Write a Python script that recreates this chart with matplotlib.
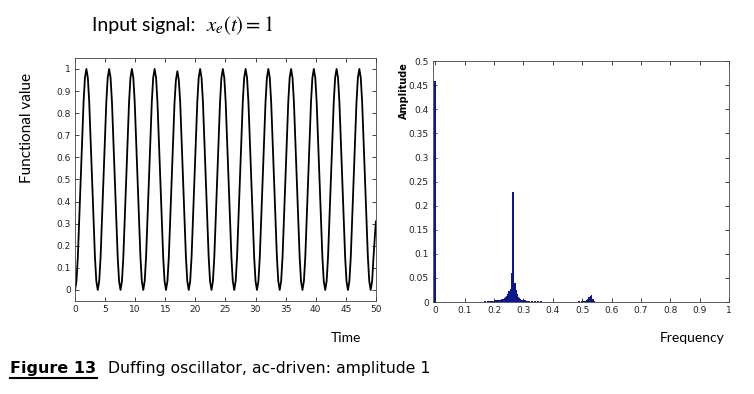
import matplotlib
matplotlib.use("Agg")
import matplotlib.pyplot as plt
from matplotlib.lines import Line2D

# time response (12 points per cycle)
time_pts = [
    0.00, 0.24, 0.47, 0.95, 1.42, 1.65, 1.89, 2.13, 2.36, 2.84, 3.31, 3.54,
    3.78, 4.02, 4.25, 4.73, 5.20, 5.43, 5.67, 5.91, 6.14, 6.62, 7.09, 7.32,
    7.56, 7.80, 8.03, 8.51, 8.98, 9.21, 9.45, 9.69, 9.92, 10.40, 10.87, 11.10,
    11.34, 11.58, 11.81, 12.29, 12.76, 12.99, 13.23, 13.47, 13.70, 14.18, 14.65, 14.88,
    15.12, 15.36, 15.59, 16.07, 16.54, 16.77, 17.01, 17.25, 17.48, 17.96, 18.43, 18.66,
    18.90, 19.14, 19.37, 19.85, 20.32, 20.55, 20.79, 21.03, 21.26, 21.74, 22.21, 22.44,
    22.68, 22.92, 23.15, 23.63, 24.10, 24.33, 24.57, 24.81, 25.04, 25.52, 25.99, 26.22,
    26.46, 26.70, 26.93, 27.41, 27.88, 28.11, 28.35, 28.59, 28.82, 29.30, 29.77, 30.00,
    30.24, 30.48, 30.71, 31.19, 31.66, 31.89, 32.13, 32.37, 32.60, 33.08, 33.55, 33.78,
    34.02, 34.26, 34.49, 34.97, 35.44, 35.67, 35.91, 36.15, 36.38, 36.86, 37.33, 37.56,
    37.80, 38.04, 38.27, 38.75, 39.22, 39.45, 39.69, 39.93, 40.16, 40.64, 41.11, 41.34,
    41.58, 41.82, 42.05, 42.53, 43.00, 43.23, 43.47, 43.71, 43.94, 44.42, 44.89, 45.12,
    45.36, 45.60, 45.83, 46.31, 46.78, 47.01, 47.25, 47.49, 47.72, 48.20, 48.67, 48.90,
    49.14, 49.38, 49.61, 50.00,
]
value_pts = [
    0.00, 0.04, 0.15, 0.50, 0.85, 0.96, 1.00, 0.96, 0.85, 0.50, 0.15, 0.04,
    0.00, 0.04, 0.15, 0.50, 0.85, 0.96, 1.00, 0.96, 0.85, 0.50, 0.15, 0.04,
    0.00, 0.04, 0.15, 0.50, 0.85, 0.96, 1.00, 0.96, 0.85, 0.50, 0.15, 0.04,
    0.00, 0.04, 0.15, 0.50, 0.85, 0.96, 1.00, 0.96, 0.85, 0.50, 0.15, 0.04,
    0.00, 0.04, 0.15, 0.50, 0.85, 0.95, 0.99, 0.95, 0.85, 0.50, 0.15, 0.04,
    0.00, 0.04, 0.15, 0.50, 0.85, 0.96, 1.00, 0.96, 0.85, 0.50, 0.15, 0.04,
    0.00, 0.04, 0.15, 0.50, 0.85, 0.96, 1.00, 0.96, 0.85, 0.50, 0.15, 0.04,
    0.00, 0.04, 0.15, 0.50, 0.85, 0.96, 1.00, 0.96, 0.85, 0.50, 0.15, 0.04,
    0.00, 0.04, 0.15, 0.50, 0.85, 0.96, 1.00, 0.96, 0.85, 0.50, 0.15, 0.04,
    0.00, 0.04, 0.15, 0.50, 0.85, 0.96, 1.00, 0.96, 0.85, 0.50, 0.15, 0.04,
    0.00, 0.04, 0.15, 0.50, 0.85, 0.96, 1.00, 0.96, 0.85, 0.50, 0.15, 0.04,
    0.00, 0.04, 0.15, 0.50, 0.85, 0.96, 1.00, 0.96, 0.85, 0.50, 0.15, 0.04,
    0.00, 0.04, 0.15, 0.50, 0.85, 0.96, 1.00, 0.96, 0.85, 0.50, 0.15, 0.04,
    0.00, 0.04, 0.15, 0.31,
]

# amplitude spectrum
freqs = [
    0.000,
    0.060, 0.070, 0.080, 0.090, 0.100, 0.110, 0.120, 0.130, 0.140, 0.150,
    0.160, 0.170, 0.180, 0.185, 0.190, 0.195, 0.200, 0.205, 0.210, 0.215,
    0.220, 0.225, 0.230, 0.235, 0.240, 0.244, 0.248, 0.252, 0.256, 0.260,
    0.265, 0.270, 0.274, 0.278, 0.282, 0.286, 0.290, 0.294, 0.298, 0.302,
    0.306, 0.310, 0.315, 0.320, 0.330, 0.340, 0.350, 0.360, 0.370, 0.380,
    0.390, 0.400, 0.410, 0.420, 0.430, 0.440, 0.450, 0.460, 0.470, 0.480,
    0.490, 0.500, 0.505, 0.510, 0.515, 0.520, 0.524, 0.528, 0.532, 0.536,
    0.540, 0.545,
]
amps = [
    0.458,
    0.001, 0.001, 0.001, 0.001, 0.001, 0.001, 0.001, 0.001, 0.001, 0.001,
    0.001, 0.0015, 0.002, 0.002, 0.0025, 0.003, 0.003, 0.0035, 0.004, 0.0045,
    0.005, 0.006, 0.007, 0.008, 0.010, 0.013, 0.017, 0.022, 0.028, 0.060,
    0.228, 0.040, 0.024, 0.016, 0.011, 0.008, 0.006, 0.005, 0.004, 0.004,
    0.0035, 0.003, 0.003, 0.0025, 0.002, 0.002, 0.0015, 0.0015, 0.001, 0.001,
    0.001, 0.001, 0.001, 0.001, 0.001, 0.001, 0.001, 0.001, 0.001, 0.001,
    0.0015, 0.002, 0.002, 0.003, 0.004, 0.006, 0.010, 0.012, 0.014, 0.006,
    0.002, 0.001,
]

time_ticks = [0, 5, 10, 15, 20, 25, 30, 35, 40, 45, 50]
value_ticks = [0, 0.1, 0.2, 0.3, 0.4, 0.5, 0.6, 0.7, 0.8, 0.9, 1]
freq_ticks = [0, 0.1, 0.2, 0.3, 0.4, 0.5, 0.6, 0.7, 0.8, 0.9, 1]
amp_ticks = [0, 0.05, 0.1, 0.15, 0.2, 0.25, 0.3, 0.35, 0.4, 0.45, 0.5]

plt.rcParams['mathtext.fontset'] = 'stix'
label_font = 'Lato'

fig = plt.figure(figsize=(7.54, 3.94), dpi=100)


def matlab_style(ax):
    ax.tick_params(direction='in', top=True, right=True, length=3,
                   width=0.6, labelsize=6.5, colors='#222222', pad=3)
    for sp in ax.spines.values():
        sp.set_linewidth(0.6)
        sp.set_color('#444444')


# left panel: time signal
ax1 = fig.add_axes([0.0995, 0.236, 0.399, 0.617])
ax1.plot(time_pts, value_pts, color='black', linewidth=1.3)
ax1.set_xlim(0, 50)
ax1.set_ylim(-0.05, 1.05)
ax1.set_xticks(time_ticks)
ax1.set_xticklabels([str(t) for t in time_ticks])
ax1.set_yticks(value_ticks)
ax1.set_yticklabels([f'{v:g}' for v in value_ticks])
matlab_style(ax1)

# right panel: spectrum
ax2 = fig.add_axes([0.5743, 0.2335, 0.3926, 0.611])
ax2.bar(freqs, amps, width=0.006, color='#0b1590', edgecolor='none')
ax2.set_xlim(-0.008, 1)
ax2.set_ylim(0, 0.5)
ax2.set_xticks(freq_ticks)
ax2.set_xticklabels([f'{f:g}' for f in freq_ticks])
ax2.set_yticks(amp_ticks)
ax2.set_yticklabels([f'{a:g}' for a in amp_ticks])
matlab_style(ax2)

# labels and title
fig.text(92 / 754, 1 - 26 / 394, 'Input signal:', fontsize=14,
         family=label_font, va='center', ha='left')
fig.text(206 / 754, 1 - 26 / 394, r'$x_e\left(t\right)=1$', fontsize=15,
         va='center', ha='left')
fig.text(27 / 754, 1 - 128 / 394, 'Functional value', rotation=90,
         fontsize=11, family=label_font, va='center', ha='center')
fig.text(404 / 754, 1 - 91 / 394, 'Amplitude', rotation=90,
         fontsize=7, fontweight='bold', va='center', ha='center')
fig.text(346 / 754, 1 - 338 / 394, 'Time', fontsize=10, family=label_font,
         va='center', ha='center')
fig.text(692 / 754, 1 - 338 / 394, 'Frequency', fontsize=10, family=label_font,
         va='center', ha='center')

# caption
fig.text(10 / 754, 1 - 368 / 394, 'Figure 13', fontsize=11.5,
         fontweight='bold', va='center', ha='left')
fig.text(108 / 754, 1 - 368 / 394, 'Duffing oscillator, ac-driven: amplitude 1',
         fontsize=11.3, va='center', ha='left')
fig.add_artist(Line2D([10 / 754, 97 / 754], [1 - 378 / 394, 1 - 378 / 394],
                      transform=fig.transFigure, color='black', linewidth=1.5))

fig.savefig('out.png', dpi=100)
